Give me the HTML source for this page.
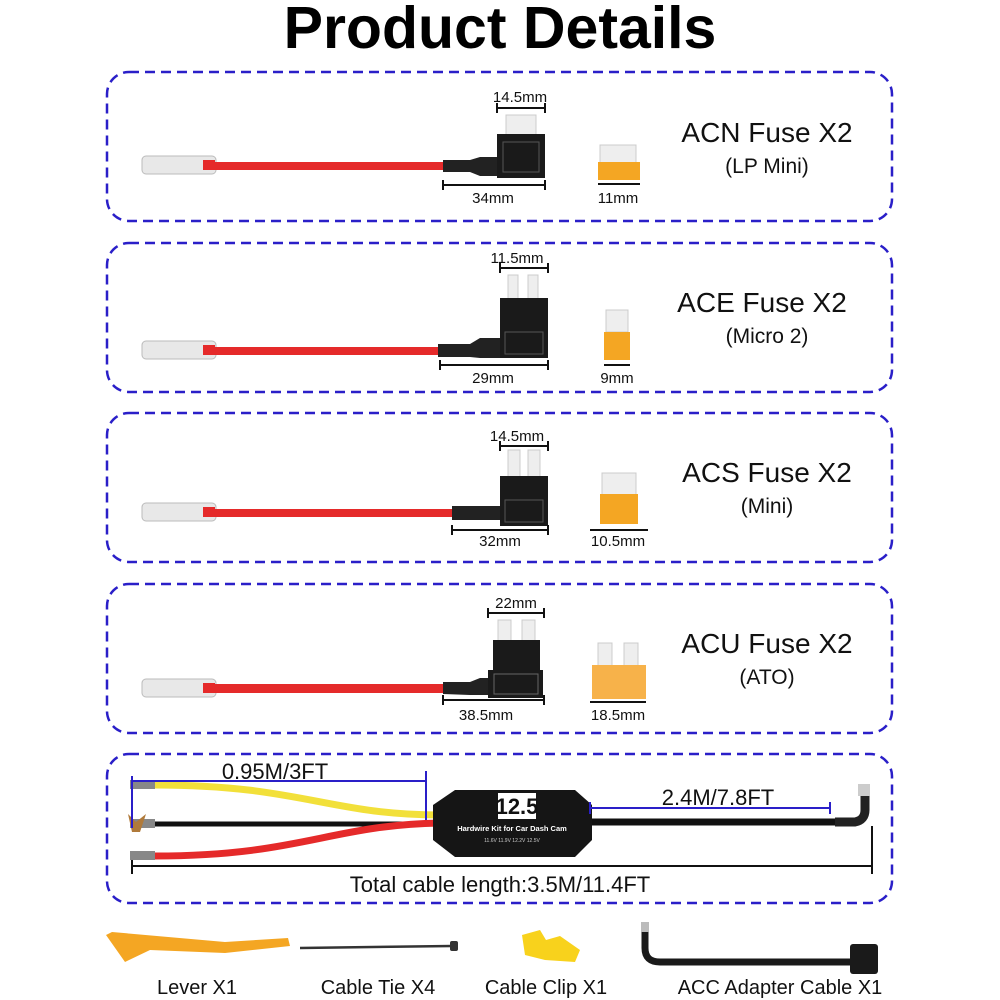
<!DOCTYPE html>
<html><head><meta charset="utf-8"><style>
html,body{margin:0;padding:0;background:#fff;}
svg{display:block;font-family:"Liberation Sans","DejaVu Sans",sans-serif;}
</style></head><body>
<svg width="1000" height="1000" viewBox="0 0 1000 1000" xmlns="http://www.w3.org/2000/svg">
<text x="500" y="48" text-anchor="middle" font-size="59" font-weight="bold" fill="#000">Product Details</text>
<g fill="none" stroke="#2a1fc8" stroke-width="2.5" stroke-dasharray="10,6">
<rect x="107" y="72" width="785" height="149" rx="22"/>
<rect x="107" y="243" width="785" height="149" rx="22"/>
<rect x="107" y="413" width="785" height="149" rx="22"/>
<rect x="107" y="584" width="785" height="149" rx="22"/>
<rect x="107" y="754" width="785" height="149" rx="22"/>
</g>
<g font-size="15" fill="#111" text-anchor="middle">
<rect x="142" y="156" width="74" height="18" rx="4" fill="#e8e8e8" stroke="#bbb"/>
<rect x="203" y="160" width="12" height="10" fill="#e52a2a"/>
<rect x="215" y="162" width="230" height="8" fill="#e52a2a"/>
<path d="M443 160 L470 160 L480 157 L500 157 L500 176 L480 176 L470 172 L443 172Z" fill="#222"/>
<rect x="506" y="115" width="30" height="20" fill="#eee" stroke="#ccc"/>
<rect x="497" y="134" width="48" height="44" fill="#1a1a1a"/>
<rect x="503" y="142" width="36" height="30" fill="none" stroke="#555"/>
<path d="M497 108 H545 M497 103 V113 M545 103 V113 M443 185 H545 M443 180 V190 M545 180 V190" stroke="#111" stroke-width="2"/>
<text x="520" y="102">14.5mm</text><text x="493" y="203">34mm</text>
<rect x="600" y="145" width="36" height="18" fill="#eee" stroke="#ccc"/>
<rect x="598" y="162" width="42" height="18" fill="#f4a623"/>
<path d="M598 184 H640" stroke="#111" stroke-width="2"/>
<text x="618" y="203">11mm</text>
<rect x="142" y="341" width="74" height="18" rx="4" fill="#e8e8e8" stroke="#bbb"/>
<rect x="203" y="345" width="12" height="10" fill="#e52a2a"/>
<rect x="215" y="347" width="225" height="8" fill="#e52a2a"/>
<path d="M438 344 L470 344 L480 338 L505 338 L505 358 L480 358 L470 357 L438 357Z" fill="#222"/>
<rect x="508" y="275" width="10" height="25" fill="#eee" stroke="#ccc"/>
<rect x="528" y="275" width="10" height="25" fill="#eee" stroke="#ccc"/>
<rect x="500" y="298" width="48" height="60" fill="#1a1a1a"/>
<rect x="505" y="332" width="38" height="22" fill="none" stroke="#555"/>
<path d="M500 268 H548 M500 263 V273 M548 263 V273 M440 365 H548 M440 360 V370 M548 360 V370" stroke="#111" stroke-width="2"/>
<text x="517" y="263">11.5mm</text><text x="493" y="383">29mm</text>
<rect x="606" y="310" width="22" height="22" fill="#eee" stroke="#ccc"/>
<rect x="604" y="332" width="26" height="28" fill="#f4a623"/>
<path d="M604 365 H630" stroke="#111" stroke-width="2"/>
<text x="617" y="383">9mm</text>
<rect x="142" y="503" width="74" height="18" rx="4" fill="#e8e8e8" stroke="#bbb"/>
<rect x="203" y="507" width="12" height="10" fill="#e52a2a"/>
<rect x="215" y="509" width="240" height="8" fill="#e52a2a"/>
<path d="M452 506 L500 506 L500 520 L452 520Z" fill="#222"/>
<rect x="508" y="450" width="12" height="28" fill="#eee" stroke="#ccc"/>
<rect x="528" y="450" width="12" height="28" fill="#eee" stroke="#ccc"/>
<rect x="500" y="476" width="48" height="50" fill="#1a1a1a"/>
<rect x="505" y="500" width="38" height="22" fill="none" stroke="#555"/>
<path d="M500 446 H548 M500 441 V451 M548 441 V451 M452 530 H548 M452 525 V535 M548 525 V535" stroke="#111" stroke-width="2"/>
<text x="517" y="441">14.5mm</text><text x="500" y="546">32mm</text>
<rect x="602" y="473" width="34" height="22" fill="#eee" stroke="#ccc"/>
<rect x="600" y="494" width="38" height="30" fill="#f4a623"/>
<path d="M590 530 H648" stroke="#111" stroke-width="2"/>
<text x="618" y="546">10.5mm</text>
<rect x="142" y="679" width="74" height="18" rx="4" fill="#e8e8e8" stroke="#bbb"/>
<rect x="203" y="683" width="12" height="10" fill="#e52a2a"/>
<rect x="215" y="684" width="230" height="9" fill="#e52a2a"/>
<path d="M443 682 L470 682 L480 678 L495 678 L495 695 L470 695 L443 694Z" fill="#222"/>
<rect x="498" y="620" width="13" height="22" fill="#eee" stroke="#ccc"/>
<rect x="522" y="620" width="13" height="22" fill="#eee" stroke="#ccc"/>
<rect x="493" y="640" width="47" height="32" fill="#1a1a1a"/>
<rect x="488" y="670" width="55" height="28" fill="#1a1a1a"/>
<rect x="494" y="674" width="44" height="20" fill="none" stroke="#666"/>
<path d="M488 613 H544 M488 608 V618 M544 608 V618 M443 700 H544 M443 695 V705 M544 695 V705" stroke="#111" stroke-width="2"/>
<text x="516" y="608">22mm</text><text x="486" y="720">38.5mm</text>
<rect x="598" y="643" width="14" height="24" fill="#eee" stroke="#ccc"/>
<rect x="624" y="643" width="14" height="24" fill="#eee" stroke="#ccc"/>
<rect x="592" y="665" width="54" height="34" fill="#f7b24a"/>
<path d="M590 702 H646" stroke="#111" stroke-width="2"/>
<text x="618" y="720">18.5mm</text>
</g>
<g text-anchor="middle" fill="#111">
<text x="767" y="142" font-size="28">ACN Fuse X2</text><text x="767" y="173" font-size="21">(LP Mini)</text>
<text x="762" y="312" font-size="28">ACE Fuse X2</text><text x="767" y="343" font-size="21">(Micro 2)</text>
<text x="767" y="482" font-size="28">ACS Fuse X2</text><text x="767" y="513" font-size="21">(Mini)</text>
<text x="767" y="653" font-size="28">ACU Fuse X2</text><text x="767" y="684" font-size="21">(ATO)</text>
</g>
<path d="M155 785 C300 785 330 815 440 815" stroke="#f2e03a" stroke-width="7" fill="none"/>
<path d="M155 824 H440" stroke="#111" stroke-width="5" fill="none"/>
<path d="M155 856 C300 856 330 825 440 823" stroke="#e52a2a" stroke-width="7" fill="none"/>
<rect x="130" y="780" width="25" height="9" fill="#888"/><rect x="130" y="819" width="25" height="9" fill="#888"/><rect x="130" y="851" width="25" height="9" fill="#888"/>
<path d="M128 814 L136 822 L146 814 L140 832 L132 832Z" fill="#b07a3a"/>
<path d="M433 805 L455 790 L575 790 L592 805 L592 840 L575 857 L455 857 L433 840Z" fill="#151515"/>
<rect x="498" y="793" width="38" height="26" fill="#fff"/>
<text x="517" y="814" font-size="22" font-weight="bold" text-anchor="middle" fill="#111">12.5</text>
<text x="512" y="831" font-size="7.5" fill="#fff" text-anchor="middle" font-weight="bold">Hardwire Kit for Car Dash Cam</text>
<text x="512" y="842" font-size="5" fill="#ccc" text-anchor="middle">11.6V 11.9V 12.2V 12.5V</text>
<path d="M592 822 H840" stroke="#111" stroke-width="7"/>
<path d="M835 822 L855 822 Q865 820 865 810 L865 795" stroke="#222" stroke-width="9" fill="none"/>
<rect x="858" y="784" width="12" height="12" fill="#ccc"/>
<g stroke="#2a1fc8" stroke-width="2">
<path d="M132 781 H426 M132 776 V828 M426 771 V820 M590 808 H830 M590 802 V814 M830 802 V814"/>
</g>
<path d="M132 866 H872 M132 860 V874 M872 826 V874" stroke="#111" stroke-width="2"/>
<g fill="#111" font-size="22">
<text x="275" y="779" text-anchor="middle">0.95M/3FT</text>
<text x="718" y="805" text-anchor="middle">2.4M/7.8FT</text>
<text x="500" y="892" text-anchor="middle">Total cable length:3.5M/11.4FT</text>
</g>
<path d="M106 935 L112 932 L225 942 L288 938 L290 946 L225 953 L150 950 L125 962 Z" fill="#f4a623"/>
<path d="M300 948 L452 946" stroke="#333" stroke-width="2.5"/>
<rect x="450" y="941" width="8" height="10" rx="2" fill="#333"/>
<path d="M522 935 L540 930 L546 940 L560 936 L580 950 L575 962 L545 960 L525 955 Z" fill="#f8d21c"/>
<path d="M645 925 V948 Q645 962 660 962 H852" stroke="#1a1a1a" stroke-width="7" fill="none"/>
<rect x="641" y="922" width="8" height="10" fill="#bbb"/>
<rect x="850" y="944" width="28" height="30" rx="3" fill="#1a1a1a"/>
<g fill="#111" font-size="20" text-anchor="middle">
<text x="197" y="994">Lever X1</text>
<text x="378" y="994">Cable Tie X4</text>
<text x="546" y="994">Cable Clip X1</text>
<text x="780" y="994">ACC Adapter Cable X1</text>
</g>
</svg>
</body></html>
